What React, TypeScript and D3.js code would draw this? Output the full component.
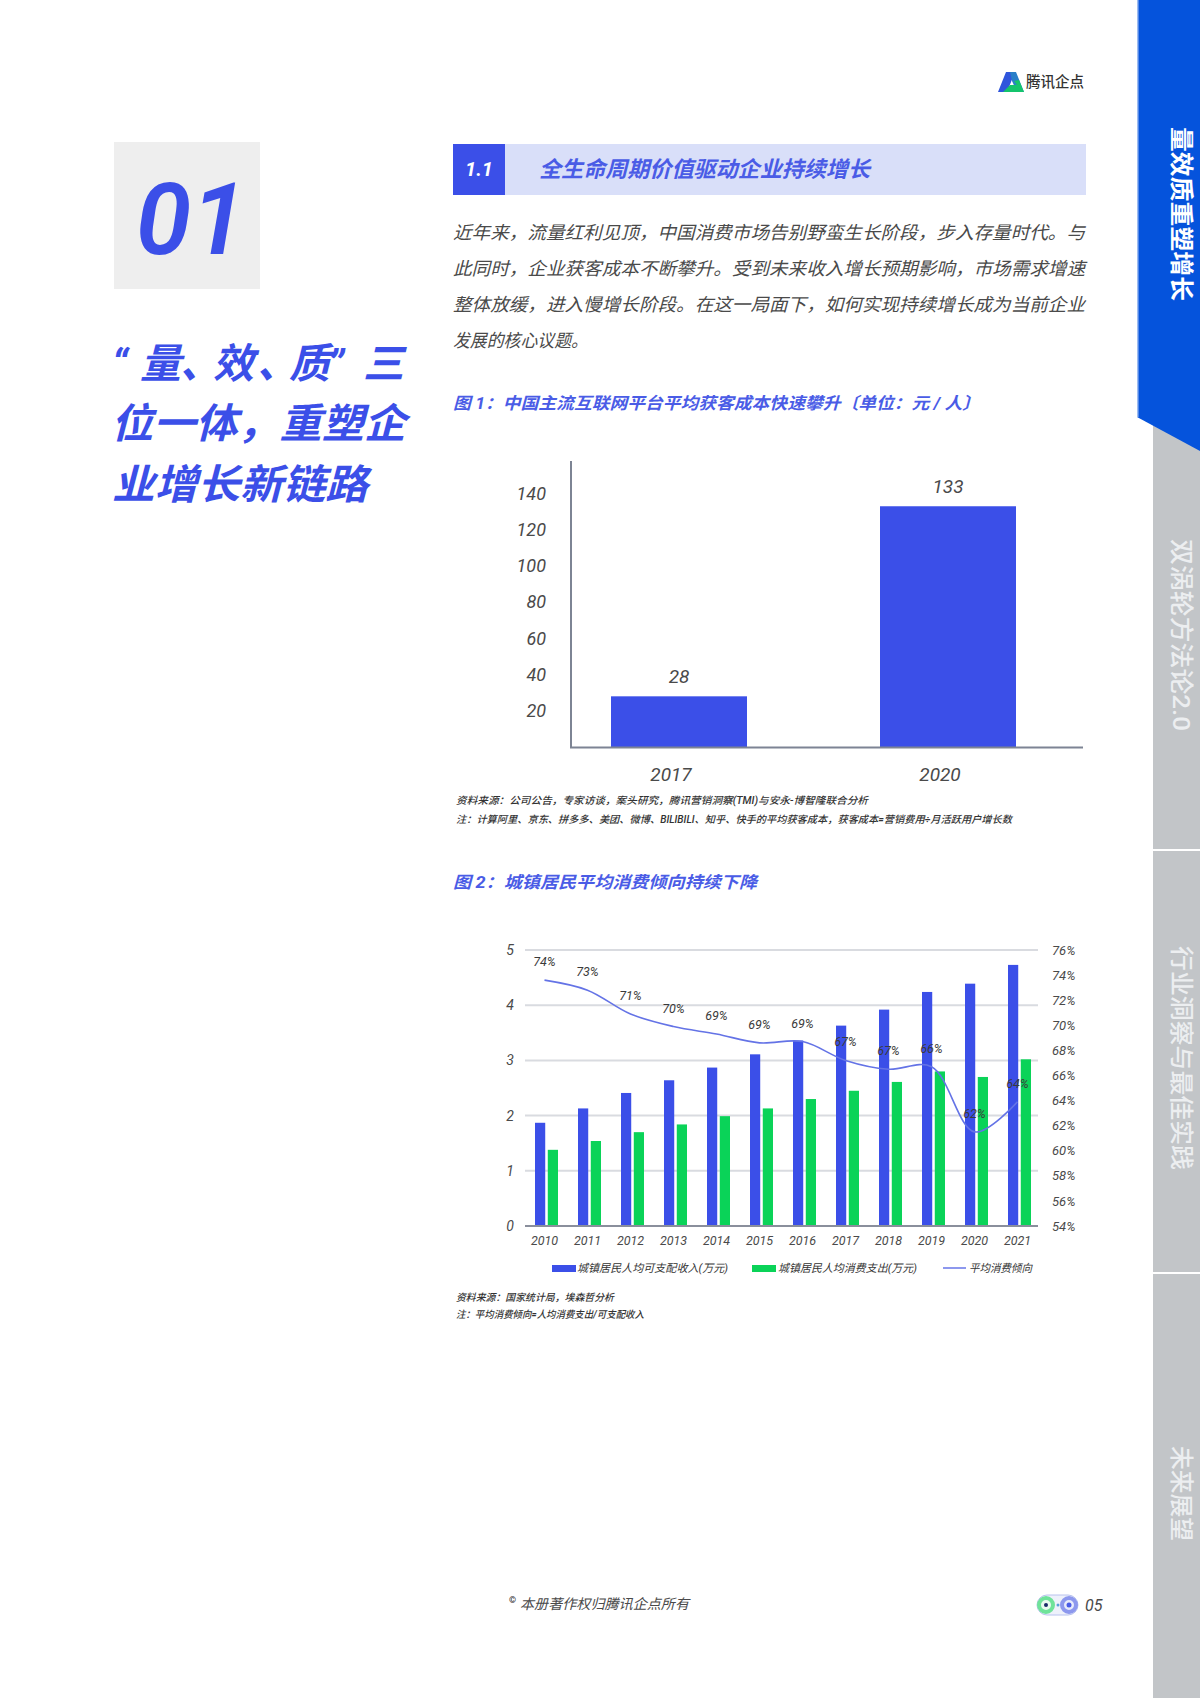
import React, { useEffect, useRef } from 'react';
import * as d3 from 'd3';

const FONT = '"Roboto", "Noto Sans CJK SC", sans-serif';
const BLUE = '#3b4fe8';
const GREEN = '#0ad358';
const TITLE_BLUE = '#4a5ce6';
const TEXT = '#4a4a4a';

// figure 1
const costYears = ['2017', '2020'];
const costValues = [28, 133];
const costTicks = [20, 40, 60, 80, 100, 120, 140];

// figure 2
const years = ['2010', '2011', '2012', '2013', '2014', '2015', '2016', '2017', '2018', '2019', '2020', '2021'];
const income = [1.87, 2.13, 2.41, 2.64, 2.87, 3.11, 3.36, 3.63, 3.92, 4.24, 4.39, 4.73];
const spending = [1.38, 1.54, 1.7, 1.84, 1.99, 2.13, 2.3, 2.45, 2.61, 2.8, 2.7, 3.02];
const rate = [73.6, 72.8, 70.9, 69.9, 69.3, 68.6, 68.7, 67.2, 66.5, 66.7, 61.5, 63.9];
const rateLabels = ['74%', '73%', '71%', '70%', '69%', '69%', '69%', '67%', '67%', '66%', '62%', '64%'];
const leftTicks = [0, 1, 2, 3, 4, 5];
const rightTicks = [54, 56, 58, 60, 62, 64, 66, 68, 70, 72, 74, 76];

// page text (\uFF0C and \uFF1A are the full-width comma and colon)
const headline = ['“量、效、质”三', '位一体\uFF0C重塑企', '业增长新链路'];
const paragraph = [
    '近年来\uFF0C流量红利见顶\uFF0C中国消费市场告别野蛮生长阶段\uFF0C步入存量时代。与',
    '此同时\uFF0C企业获客成本不断攀升。受到未来收入增长预期影响\uFF0C市场需求增速',
    '整体放缓\uFF0C进入慢增长阶段。在这一局面下\uFF0C如何实现持续增长成为当前企业',
    '发展的核心议题。',
];
const tabs = [
    { label: '量效质重塑增长', top: 127, len: 174 },
    { label: '双涡轮方法论2.0', top: 539, len: 192 },
    { label: '行业洞察与最佳实践', top: 946, len: 224 },
    { label: '未来展望', top: 1446, len: 95 },
];

const App: React.FC = () => {
    const svgRef = useRef<SVGSVGElement>(null);

    useEffect(() => {
        const svg = d3.select(svgRef.current);
        svg.selectAll('*').remove();
        svg.attr('font-family', FONT);

        const label = (
            parent: any, x: number | string, y: number, str: string, size: number,
            opts: { fill?: string; weight?: number; anchor?: string; len?: number; italic?: boolean } = {}
        ) => {
            const t = parent.append('text')
                .attr('x', x)
                .attr('y', y)
                .attr('font-size', size)
                .attr('font-weight', opts.weight ?? 400)
                .attr('font-style', opts.italic === false ? 'normal' : 'italic')
                .attr('fill', opts.fill ?? TEXT)
                .attr('text-anchor', opts.anchor ?? 'start')
                .attr('dominant-baseline', 'central')
                .text(str);
            if (opts.len) t.attr('textLength', opts.len).attr('lengthAdjust', 'spacingAndGlyphs');
            return t;
        };

        // side tabs
        svg.append('rect').attr('x', 1153).attr('y', 420).attr('width', 47).attr('height', 1278).attr('fill', '#c2c5c8');
        [849, 1272].forEach((y) => {
            svg.append('rect').attr('x', 1153).attr('y', y).attr('width', 47).attr('height', 2).attr('fill', '#ffffff');
        });
        svg.append('path').attr('d', 'M1137,0H1200V451L1137,417Z').attr('fill', '#0553dc');
        svg.append('rect').attr('x', 1137).attr('y', 0).attr('width', 1.5).attr('height', 417).attr('fill', '#9dbcf2');
        tabs.forEach((tab, i) => {
            const g = svg.append('g').attr('transform', `translate(1181,${tab.top}) rotate(90)`);
            label(g, 0, 0, tab.label, 23.5, { fill: i === 0 ? '#ffffff' : '#eceef0', weight: i === 0 ? 700 : 500, len: tab.len, italic: false });
        });

        // logo
        svg.append('path').attr('d', 'M1006,72H1015L1007,92H998Z').attr('fill', '#2f55dc');
        svg.append('path').attr('d', 'M1010,72H1016L1024,92H1017L1012,81Z').attr('fill', '#2a7fc8');
        svg.append('path').attr('d', 'M1003,92L1010,85H1017L1014,81L1019,80L1024,92Z').attr('fill', '#14c46c');
        label(svg, 1026, 82, '腾讯企点', 14.5, { fill: '#333333', weight: 500, italic: false, len: 58 });

        // chapter block
        svg.append('rect').attr('x', 114).attr('y', 142).attr('width', 146).attr('height', 147).attr('fill', '#eeeeee');
        label(svg, 191, 219, '01', 100, { fill: BLUE, weight: 600, anchor: 'middle' });
        label(svg, '112 140 180 213 257 289 328 363', 364, headline[0], 41, { fill: BLUE, weight: 700 });
        label(svg, 111, 424, headline[1], 41, { fill: BLUE, weight: 700, len: 295 });
        label(svg, 112, 485, headline[2], 41, { fill: BLUE, weight: 700, len: 256 });

        // section heading
        svg.append('rect').attr('x', 453).attr('y', 144).attr('width', 633).attr('height', 51).attr('fill', '#d9dff9');
        svg.append('rect').attr('x', 453).attr('y', 144).attr('width', 52).attr('height', 51).attr('fill', BLUE);
        label(svg, 479, 169, '1.1', 20, { fill: '#ffffff', weight: 700, anchor: 'middle' });
        label(svg, 539, 169, '全生命周期价值驱动企业持续增长', 22, { fill: TITLE_BLUE, weight: 700, len: 331 });

        paragraph.forEach((line, i) => {
            label(svg, 453, 232 + i * 36.2, line, 18, { len: i < 3 ? 632 : 135 });
        });

        label(svg, 453, 403, '图 1\uFF1A中国主流互联网平台平均获客成本快速攀升〔单位\uFF1A元 / 人〕', 16.5, { fill: TITLE_BLUE, weight: 700, len: 527 });
        label(svg, 453, 882, '图 2\uFF1A城镇居民平均消费倾向持续下降', 16.5, { fill: TITLE_BLUE, weight: 700, len: 304 });

        // figure 1
        const x1 = d3.scalePoint<string>().domain(costYears).range([679, 948]);
        const y1 = d3.scaleLinear().domain([0, 158]).range([747, 461]);
        const barW = 136;

        const axisLeft1 = svg.append('g')
            .attr('transform', 'translate(571,0)')
            .call(d3.axisLeft(y1).tickValues(costTicks).tickSize(0).tickPadding(25));
        axisLeft1.selectAll('path').remove();
        axisLeft1.selectAll('text')
            .attr('font-family', FONT).attr('font-size', 18).attr('font-style', 'italic').attr('fill', TEXT);

        svg.selectAll('.cost-bar')
            .data(costValues)
            .enter()
            .append('rect')
            .attr('class', 'cost-bar')
            .attr('x', (_, i) => x1(costYears[i])! - barW / 2)
            .attr('y', (d) => y1(d))
            .attr('width', barW)
            .attr('height', (d) => y1(0) - y1(d))
            .attr('fill', BLUE);

        svg.append('line').attr('x1', 571).attr('x2', 571).attr('y1', 461).attr('y2', 748).attr('stroke', '#7d8494').attr('stroke-width', 2);
        svg.append('line').attr('x1', 570).attr('x2', 1083).attr('y1', 747.5).attr('y2', 747.5).attr('stroke', '#7d8494').attr('stroke-width', 2);

        costValues.forEach((d, i) => {
            label(svg, x1(costYears[i])!, y1(d) - 20, String(d), 19, { anchor: 'middle' });
            label(svg, x1(costYears[i])! - 8, 774, costYears[i], 19, { anchor: 'middle' });
        });

        label(svg, 456, 800, '资料来源\uFF1A公司公告\uFF0C专家访谈\uFF0C案头研究\uFF0C腾讯营销洞察(TMI)与安永-博智隆联合分析', 10, { fill: '#333333', weight: 500, len: 412 });
        label(svg, 456, 819, '注\uFF1A计算阿里、京东、拼多多、美团、微博、BILIBILI、知乎、快手的平均获客成本\uFF0C获客成本=营销费用÷月活跃用户增长数', 10, { fill: '#333333', weight: 500, len: 556 });

        // figure 2
        const x2 = d3.scaleBand<string>().domain(years).range([523, 1039]);
        const inner = d3.scaleBand<string>().domain(['income', 'spending']).range([12, 35]).paddingInner(0.2);
        const y2 = d3.scaleLinear().domain([0, 5]).range([1226, 950]);
        const yRate = d3.scaleLinear().domain([54, 76]).range([1226, 950]);

        svg.selectAll('.grid')
            .data(leftTicks.slice(1))
            .enter()
            .append('line')
            .attr('class', 'grid')
            .attr('x1', 525)
            .attr('x2', 1038)
            .attr('y1', (d) => y2(d))
            .attr('y2', (d) => y2(d))
            .attr('stroke', '#d9dbe0')
            .attr('stroke-width', 2);

        const axisL = svg.append('g')
            .attr('transform', 'translate(525,0)')
            .call(d3.axisLeft(y2).tickValues(leftTicks).tickFormat(d3.format('d')).tickSize(0).tickPadding(11));
        axisL.selectAll('path').remove();
        axisL.selectAll('text')
            .attr('font-family', FONT).attr('font-size', 14).attr('font-style', 'italic').attr('fill', TEXT);

        const axisR = svg.append('g')
            .attr('transform', 'translate(1038,0)')
            .call(d3.axisRight(yRate).tickValues(rightTicks).tickFormat((d) => `${d}%`).tickSize(0).tickPadding(14));
        axisR.selectAll('path').remove();
        axisR.selectAll('text')
            .attr('font-family', FONT).attr('font-size', 13).attr('font-style', 'italic').attr('fill', TEXT);

        const axisB = svg.append('g')
            .attr('transform', 'translate(0,1226)')
            .call(d3.axisBottom(x2).tickSize(0).tickPadding(10));
        axisB.select('path').remove();
        axisB.selectAll('text')
            .attr('font-family', FONT).attr('font-size', 12.5).attr('font-style', 'italic').attr('fill', TEXT);

        svg.selectAll('.income')
            .data(income)
            .enter()
            .append('rect')
            .attr('class', 'income')
            .attr('x', (_, i) => x2(years[i])! + inner('income')!)
            .attr('y', (d) => y2(d))
            .attr('width', inner.bandwidth())
            .attr('height', (d) => y2(0) - y2(d))
            .attr('fill', BLUE);

        svg.selectAll('.spending')
            .data(spending)
            .enter()
            .append('rect')
            .attr('class', 'spending')
            .attr('x', (_, i) => x2(years[i])! + inner('spending')!)
            .attr('y', (d) => y2(d))
            .attr('width', inner.bandwidth())
            .attr('height', (d) => y2(0) - y2(d))
            .attr('fill', GREEN);

        svg.append('line').attr('x1', 525).attr('x2', 1038).attr('y1', 1226).attr('y2', 1226).attr('stroke', '#8a8f9c').attr('stroke-width', 2);

        const cx = (i: number) => x2(years[i])! + x2.bandwidth() / 2;
        const line = d3.line<number>()
            .x((_, i) => cx(i))
            .y((d) => yRate(d))
            .curve(d3.curveCatmullRom.alpha(0.5));
        svg.append('path')
            .attr('d', line(rate))
            .attr('fill', 'none')
            .attr('stroke', '#6473e6')
            .attr('stroke-width', 1.6);

        rate.forEach((d, i) => {
            label(svg, cx(i), yRate(d) - 18.5, rateLabels[i], 12.5, { anchor: 'middle', fill: '#3a3a3a' });
        });

        // legend
        svg.append('rect').attr('x', 552).attr('y', 1265).attr('width', 24).attr('height', 7).attr('fill', BLUE);
        label(svg, 577, 1268, '城镇居民人均可支配收入(万元)', 11, { fill: '#333333', weight: 400, len: 151 });
        svg.append('rect').attr('x', 752).attr('y', 1265).attr('width', 24).attr('height', 7).attr('fill', GREEN);
        label(svg, 778, 1268, '城镇居民人均消费支出(万元)', 11, { fill: '#333333', weight: 400, len: 139 });
        svg.append('line').attr('x1', 943).attr('x2', 966).attr('y1', 1268).attr('y2', 1268).attr('stroke', '#8d98ee').attr('stroke-width', 2);
        label(svg, 969, 1268, '平均消费倾向', 11, { fill: '#333333', weight: 400, len: 63 });

        label(svg, 456, 1297, '资料来源\uFF1A国家统计局\uFF0C埃森哲分析', 10, { fill: '#333333', weight: 500, len: 158 });
        label(svg, 456, 1314, '注\uFF1A平均消费倾向=人均消费支出/可支配收入', 10, { fill: '#333333', weight: 500, len: 188 });

        // footer
        label(svg, 509, 1600, '©', 9, { fill: '#222222', weight: 700, italic: false });
        label(svg, 520, 1604, '本册著作权归腾讯企点所有', 14, { len: 169 });
        svg.append('rect').attr('x', 1037).attr('y', 1595).attr('width', 41).attr('height', 20).attr('rx', 10).attr('fill', '#eef1fb').attr('stroke', '#b8c2ee');
        svg.append('circle').attr('cx', 1046).attr('cy', 1605).attr('r', 7).attr('fill', '#e8fbef').attr('stroke', '#6fe39a').attr('stroke-width', 4);
        svg.append('circle').attr('cx', 1069).attr('cy', 1605).attr('r', 7).attr('fill', '#e8ebfb').attr('stroke', '#8d98ee').attr('stroke-width', 4);
        svg.append('circle').attr('cx', 1046).attr('cy', 1605).attr('r', 2).attr('fill', '#1a2a6a');
        svg.append('circle').attr('cx', 1069).attr('cy', 1605).attr('r', 2.5).attr('fill', '#4a5ce6');
        svg.append('circle').attr('cx', 1058).attr('cy', 1605).attr('r', 1.5).attr('fill', '#5aa0d8');
        label(svg, 1085, 1605, '05', 16, {});
    }, []);

    return (
        <svg
            ref={svgRef}
            width={1200}
            height={1698}
            style={{ position: 'absolute', left: 0, top: 0, background: '#ffffff' }}
        />
    );
};

export default App;
